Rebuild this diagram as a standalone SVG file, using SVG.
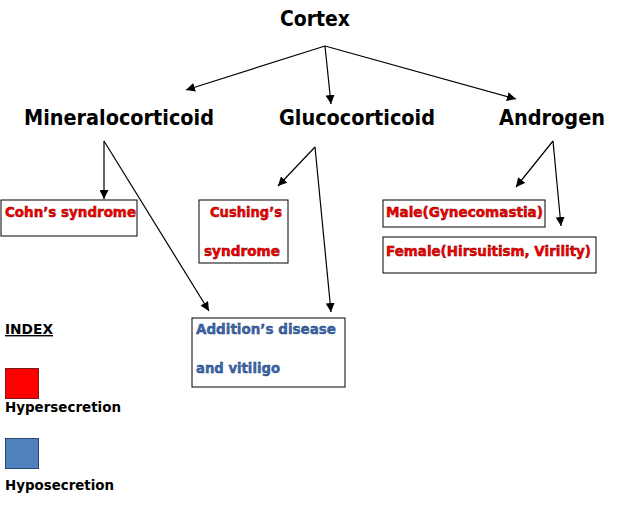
<svg xmlns="http://www.w3.org/2000/svg" width="624" height="515" viewBox="0 0 624 515">
<defs>
<marker id="ah" viewBox="0 0 10 10" refX="10" refY="5" markerWidth="9" markerHeight="9" markerUnits="userSpaceOnUse" orient="auto">
<path d="M0,0 L10,5 L0,10 z" fill="#000"/>
</marker>
<style>
.h{font-family:"DejaVu Sans",Verdana,sans-serif;font-weight:bold;font-size:21px;fill:#000}
.r{font-family:"DejaVu Sans",Verdana,sans-serif;font-weight:bold;font-size:14px;fill:#f00;stroke:#7a0000;stroke-width:0.5}
.b{font-family:"DejaVu Sans",Verdana,sans-serif;font-weight:bold;font-size:14px;fill:#3a66aa;stroke:#1f3f70;stroke-width:0.4}
.k{font-family:"DejaVu Sans",Verdana,sans-serif;font-weight:bold;font-size:14px;fill:#000}
.box{fill:#fff;stroke:#000;stroke-width:1}
.c{stroke:#000;stroke-width:1.2;fill:none;marker-end:url(#ah)}
</style>
</defs>
<rect width="624" height="515" fill="#fff"/>
<g id="cortex"><text class="h" x="280" y="26" textLength="70" lengthAdjust="spacingAndGlyphs">Cortex</text></g>
<g id="mineralocorticoid"><text class="h" x="24" y="125" textLength="190" lengthAdjust="spacingAndGlyphs">Mineralocorticoid</text></g>
<g id="glucocorticoid"><text class="h" x="279" y="125" textLength="156" lengthAdjust="spacingAndGlyphs">Glucocorticoid</text></g>
<g id="androgen"><text class="h" x="499" y="125" textLength="106" lengthAdjust="spacingAndGlyphs">Androgen</text></g>
<g id="cohn"><rect class="box" x="1" y="200" width="136" height="36"/><text class="r" x="5" y="217" textLength="131" lengthAdjust="spacingAndGlyphs">Cohn’s syndrome</text></g>
<g id="cushing"><rect class="box" x="199" y="200" width="89" height="63"/><text class="r" x="210" y="217" textLength="72" lengthAdjust="spacingAndGlyphs">Cushing’s</text><text class="r" x="204" y="256" textLength="76" lengthAdjust="spacingAndGlyphs">syndrome</text></g>
<g id="male"><rect class="box" x="383" y="200" width="162" height="27"/><text class="r" x="386" y="217" textLength="157" lengthAdjust="spacingAndGlyphs">Male(Gynecomastia)</text></g>
<g id="female"><rect class="box" x="383" y="237" width="213" height="36"/><text class="r" x="386" y="256" textLength="205" lengthAdjust="spacingAndGlyphs">Female(Hirsuitism, Virility)</text></g>
<g id="addison"><rect class="box" x="192" y="318" width="153" height="69"/><text class="b" x="196" y="334" textLength="140" lengthAdjust="spacingAndGlyphs">Addition’s disease</text><text class="b" x="196" y="373" textLength="84" lengthAdjust="spacingAndGlyphs">and vitiligo</text></g>
<g id="legend">
<text class="k" x="5" y="334" textLength="48" lengthAdjust="spacingAndGlyphs" text-decoration="underline">INDEX</text>
<rect x="5.5" y="368.5" width="33" height="30" fill="#f00" stroke="#7a1a1a"/>
<text class="k" x="5" y="412" textLength="116" lengthAdjust="spacingAndGlyphs">Hypersecretion</text>
<rect x="5.5" y="438.5" width="33" height="30" fill="#4f81bd" stroke="#2a4670"/>
<text class="k" x="5" y="490" textLength="109" lengthAdjust="spacingAndGlyphs">Hyposecretion</text>
</g>
<g id="connectors">
<line class="c" x1="325" y1="46" x2="186" y2="90"/>
<line class="c" x1="325" y1="46" x2="331" y2="104"/>
<line class="c" x1="325" y1="46" x2="516" y2="99"/>
<line class="c" x1="104" y1="141" x2="104" y2="199"/>
<line class="c" x1="104" y1="141" x2="209" y2="311"/>
<line class="c" x1="315" y1="147" x2="278" y2="186"/>
<line class="c" x1="315" y1="147" x2="331" y2="312"/>
<line class="c" x1="553" y1="141" x2="516" y2="187"/>
<line class="c" x1="553" y1="141" x2="561" y2="226"/>
</g>
</svg>
